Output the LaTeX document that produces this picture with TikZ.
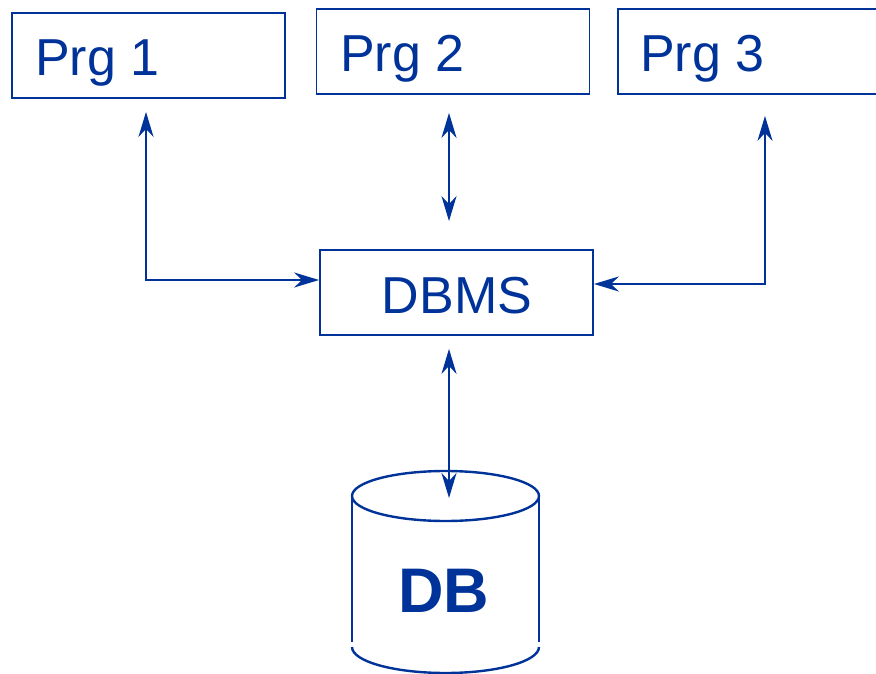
\documentclass[tikz,border=0pt]{standalone}
\usepackage{fontspec}
\setmainfont{Liberation Sans}
\usetikzlibrary{arrows.meta,calc}
\definecolor{dbblue}{RGB}{0,51,153}
\tikzset{
  box/.style={draw=dbblue, line width=1.8pt, minimum width=273pt, minimum height=85pt, inner sep=0pt},
  boxtext/.style={text=dbblue, font=\fontsize{52}{60}\selectfont, inner sep=0pt},
  link/.style={draw=dbblue, line width=2.6pt,
    arrows={Stealth[length=25pt,width=15pt,inset=8pt]-Stealth[length=25pt,width=15pt,inset=8pt]}},
  onelink/.style={draw=dbblue, line width=2.6pt,
    arrows={-Stealth[length=25pt,width=15pt,inset=8pt]}},
  drum/.style={draw=dbblue, line width=2.4pt}
}
\begin{document}
\begin{tikzpicture}[x=1pt,y=-1pt]
  \useasboundingbox (0,0) rectangle (876,674);
  \clip (0,0) rectangle (876,674);

  % program boxes
  \node[box] (p1) at (148.5,55.5) {};
  \node[box] (p2) at (453,51.5) {};
  \node[box] (p3) at (754.5,51.5) {};
  \node[boxtext, anchor=base west] (t1) at (35,76) {Prg 1};
  \node[boxtext, anchor=base west] (t2) at (340,72) {Prg 2};
  \node[boxtext, anchor=base west] (t3) at (640,72) {Prg 3};

  % DBMS box
  \node[box] (dbms) at (456.5,292.5) {};
  \node[boxtext, anchor=base] (tdbms) at (457,313) {DBMS};

  % database drum
  \coordinate (dbtop) at (445.5,496);
  \coordinate (dbbot) at (445.5,647);
  \draw[drum] (dbtop) ellipse [x radius=93.5, y radius=25];
  \draw[drum] ($(dbtop)+(-93.5,0)$) -- ($(dbbot)+(-93.5,-5)$);
  \draw[drum] ($(dbtop)+(93.5,0)$) -- ($(dbbot)+(93.5,-5)$);
  \draw[drum] ($(dbbot)+(-93.5,0)$) arc [start angle=180, end angle=360, x radius=93.5, y radius=-26];
  \node[text=dbblue, font=\bfseries\fontsize{63}{70}\selectfont, anchor=base, inner sep=0pt] (db) at (444,612) {DB};

  % connectors
  \coordinate (c1) at (146,280);
  \coordinate (c3) at (765,284);
  \draw[link, shorten <=13pt] (p1.south -| c1) -- (c1) -- (dbms.west |- c1);
  \draw[link, shorten <=21pt] (p3.south -| c3) -- (c3) -- (dbms.east |- c3);
  \draw[link, shorten <=18pt, shorten >=28pt] (p2.south -| 449,0) -- (dbms.north -| 449,0);
  \draw[link, shorten <=13pt, shorten >=-2pt] (dbms.south -| 449,0) -- (dbtop -| 449,0);
\end{tikzpicture}
\end{document}
